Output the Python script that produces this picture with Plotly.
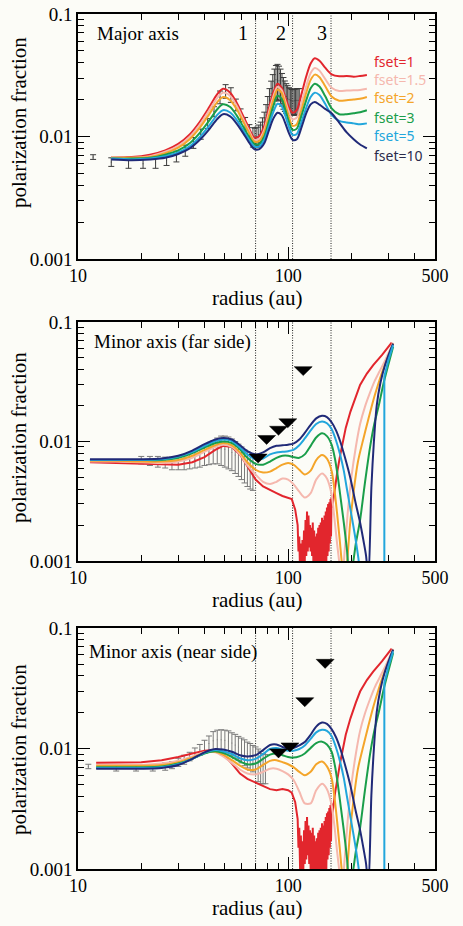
import plotly.graph_objects as go

W, H = 463, 926
SERIF = "Liberation Serif, Times New Roman, Tinos, DejaVu Serif, serif"
SANS = "Noto Sans, Open Sans, sans-serif"
COLORS = {"1": "#e2262d", "1.5": "#f5b8ae", "2": "#f4a52a", "3": "#1a9e4a", "5": "#22a6dc", "10": "#202a78"}
LABEL_COLORS = {"1": "#e2262d", "1.5": "#f5b8ae", "2": "#f4a52a", "3": "#1a9e4a", "5": "#22a6dc", "10": "#2b2b4b"}
FSETS = ["1", "1.5", "2", "3", "5", "10"]

# ---------------- Panel 1: Major axis ----------------
r_major = [14.4, 18, 22, 26, 30, 34, 38, 42, 46, 49, 53, 57, 61, 65, 69, 73, 77, 81, 85, 89, 93, 97,
           101, 105, 110, 116, 122, 128, 134, 141, 150, 161, 175, 190, 205, 220, 237]
major = {
    "1":   [0.0068, 0.0068, 0.0071, 0.0077, 0.0087, 0.0104, 0.0132, 0.0172, 0.0222, 0.0245, 0.0228, 0.0188,
            0.0148, 0.0118, 0.0098, 0.0101, 0.0122, 0.0170, 0.0228, 0.0270, 0.0252, 0.0208, 0.0172, 0.0156,
            0.0165, 0.0225, 0.0310, 0.0395, 0.0436, 0.0415, 0.0365, 0.0322, 0.0310, 0.0312, 0.0308, 0.0312, 0.0318],
    "1.5": [0.0068, 0.0067, 0.0069, 0.0075, 0.0084, 0.0099, 0.0125, 0.0162, 0.0207, 0.0228, 0.0214, 0.0177,
            0.0140, 0.0113, 0.0094, 0.0096, 0.0114, 0.0158, 0.0212, 0.0255, 0.0240, 0.0195, 0.0158, 0.0138,
            0.0143, 0.0190, 0.0258, 0.0330, 0.0362, 0.0345, 0.0295, 0.0250, 0.0235, 0.0237, 0.0238, 0.0240, 0.0245],
    "2":   [0.0067, 0.0067, 0.0068, 0.0073, 0.0081, 0.0095, 0.0118, 0.0151, 0.0191, 0.0210, 0.0198, 0.0166,
            0.0133, 0.0108, 0.0091, 0.0092, 0.0108, 0.0147, 0.0198, 0.0242, 0.0228, 0.0182, 0.0143, 0.0122,
            0.0126, 0.0168, 0.0228, 0.0290, 0.0320, 0.0305, 0.0258, 0.0212, 0.0196, 0.0198, 0.0200, 0.0203, 0.0210],
    "3":   [0.0066, 0.0066, 0.0067, 0.0071, 0.0077, 0.0088, 0.0107, 0.0134, 0.0167, 0.0183, 0.0174, 0.0148,
            0.0121, 0.0100, 0.0087, 0.0087, 0.0100, 0.0133, 0.0177, 0.0215, 0.0204, 0.0165, 0.0131, 0.0113,
            0.0116, 0.0150, 0.0198, 0.0248, 0.0270, 0.0256, 0.0214, 0.0170, 0.0152, 0.0152, 0.0155, 0.0158, 0.0164],
    "5":   [0.0066, 0.0065, 0.0066, 0.0069, 0.0074, 0.0083, 0.0099, 0.0122, 0.0150, 0.0164, 0.0157, 0.0136,
            0.0113, 0.0095, 0.0083, 0.0083, 0.0094, 0.0122, 0.0158, 0.0185, 0.0178, 0.0147, 0.0119, 0.0103,
            0.0105, 0.0133, 0.0172, 0.0210, 0.0228, 0.0218, 0.0185, 0.0150, 0.0134, 0.0130, 0.0128, 0.0126, 0.0128],
    "10":  [0.0065, 0.0064, 0.0065, 0.0067, 0.0072, 0.0080, 0.0094, 0.0114, 0.0139, 0.0152, 0.0146, 0.0127,
            0.0107, 0.0090, 0.0079, 0.0079, 0.0088, 0.0112, 0.0140, 0.0156, 0.0150, 0.0128, 0.0106, 0.0094,
            0.0095, 0.0120, 0.0155, 0.0183, 0.0191, 0.0182, 0.0168, 0.0155, 0.0130, 0.0108, 0.0095, 0.0086, 0.0080],
}
obs_major_r = [11.8, 14.4, 17.4, 20.4, 23.4, 26.4, 29.4, 32.4, 35.4, 38.4, 41.4, 44.4, 47.4, 50.4, 53.4,
               56.4, 59.4, 62.4, 65.4, 68, 69.5, 71, 72.5, 74, 75.5, 77, 78.5, 80, 81.5, 83, 84.5, 86, 87.5,
               89, 90.5, 92, 93.5, 95, 96.5, 98, 99.5, 101, 102.5, 104, 105.5, 107, 108.5, 110, 111.5, 113]
obs_major_v = [0.0068, 0.0062, 0.0060, 0.0060, 0.0061, 0.0064, 0.0069, 0.0077, 0.0089, 0.0105, 0.0128,
               0.0160, 0.0210, 0.0235, 0.0220, 0.0182, 0.0150, 0.0128, 0.0112, 0.0100, 0.0099, 0.0100,
               0.0104, 0.0110, 0.0119, 0.0132, 0.0150, 0.0172, 0.0198, 0.0225, 0.0252, 0.0275, 0.0290,
               0.0293, 0.0285, 0.0270, 0.0252, 0.0235, 0.0222, 0.0212, 0.0205, 0.0200, 0.0198, 0.0196,
               0.0195, 0.0196, 0.0197, 0.0198, 0.0198, 0.0198]
obs_major_e = [0.0003, 0.0005, 0.0005, 0.0005, 0.0006, 0.0006, 0.0007, 0.0008, 0.0009, 0.0010, 0.0012,
               0.0015, 0.0025, 0.0030, 0.0030, 0.0020, 0.0018, 0.0015, 0.0013, 0.0018, 0.0018, 0.0019,
               0.0020, 0.0021, 0.0023, 0.0026, 0.0032, 0.0040, 0.0048, 0.0058, 0.0068, 0.0080, 0.0090,
               0.0095, 0.0090, 0.0085, 0.0075, 0.0068, 0.0062, 0.0058, 0.0055, 0.0050, 0.0048, 0.0046,
               0.0046, 0.0047, 0.0047, 0.0048, 0.0048, 0.0048]

# ---------------- Outer parts shared by minor-axis panels (r > 161 au) ----------------
out_r = {
    "1":   [163, 167, 172, 177, 188, 198, 210, 220, 237, 254, 280, 311],
    "1.5": [166, 171, 176, 180, 185, 192, 200, 210, 220, 232, 245, 258, 272, 290, 316],
    "2":   [166, 171, 176, 181, 186, 191, 197, 205, 215, 228, 240, 255, 268, 280, 295, 316],
    "3":   [167, 172, 178, 184, 190, 196, 202, 210, 220, 232, 245, 257, 270, 285, 300, 316],
    "5":   [169, 177, 184, 190, 198, 205, 211, 216, 222, 230],
    "10":  [169, 177, 187, 198, 210, 220, 228, 235, 241, 249, 256, 264, 275, 289, 303, 316],
}
out_v = {
    "1":   [0.0030, 0.0042, 0.0058, 0.0077, 0.0130, 0.0178, 0.0240, 0.0297, 0.0370, 0.0435, 0.0530, 0.0673],
    "1.5": [0.0023, 0.0014, 0.0009, 0.0006, 0.0011, 0.0025, 0.0050, 0.0090, 0.0140, 0.0195, 0.0255, 0.0320,
            0.0385, 0.0480, 0.0670],
    "2":   [0.0040, 0.0025, 0.0015, 0.0009, 0.0007, 0.0010, 0.0020, 0.0038, 0.0068, 0.0105, 0.0150, 0.0225,
            0.0300, 0.0380, 0.0480, 0.0660],
    "3":   [0.0072, 0.0052, 0.0033, 0.0021, 0.0013, 0.0008, 0.0009, 0.0014, 0.0022, 0.0045, 0.0088, 0.0140,
            0.0200, 0.0310, 0.0440, 0.0620],
    "5":   [0.0102, 0.0077, 0.0057, 0.0041, 0.0027, 0.0019, 0.0014, 0.00105, 0.0007, 0.0004],
    "10":  [0.0124, 0.0100, 0.0072, 0.0049, 0.0030, 0.0021, 0.0015, 0.0011, 0.0007, 0.0041, 0.0100, 0.0200,
            0.0310, 0.0435, 0.0550, 0.0660],
}
cyan_jump_r = [287, 287, 300, 316]
cyan_jump_v = [0.0004, 0.035, 0.048, 0.064]

# ---------------- Panel 2: Minor axis (far side) ----------------
r_far = [11.4, 15, 20, 25, 30, 35, 40, 45, 49, 54, 59, 64, 70, 76, 82, 88, 94, 100, 106, 113, 120, 128,
         136, 145, 153, 161]
far = {
    "1.5": [0.0068, 0.0068, 0.0067, 0.0066, 0.0068, 0.0073, 0.0082, 0.0090, 0.0094, 0.0090, 0.0078, 0.0063,
            0.0053, 0.0046, 0.0044, 0.0046, 0.0049, 0.0048, 0.0044, 0.0038, 0.0034, 0.0037, 0.0048, 0.0054,
            0.0049, 0.0036],
    "2":   [0.0069, 0.0069, 0.0068, 0.0068, 0.0070, 0.0076, 0.0085, 0.0093, 0.0097, 0.0093, 0.0081, 0.0067,
            0.0058, 0.0055, 0.0056, 0.0060, 0.0064, 0.0066, 0.0064, 0.0058, 0.0053, 0.0057, 0.0070, 0.0077,
            0.0072, 0.0057],
    "3":   [0.0070, 0.0070, 0.0070, 0.0070, 0.0073, 0.0080, 0.0089, 0.0097, 0.0100, 0.0097, 0.0086, 0.0073,
            0.0065, 0.0064, 0.0068, 0.0073, 0.0076, 0.0076, 0.0074, 0.0073, 0.0078, 0.0092, 0.0108, 0.0117,
            0.0111, 0.0094],
    "5":   [0.0070, 0.0070, 0.0070, 0.0071, 0.0075, 0.0082, 0.0092, 0.0101, 0.0104, 0.0101, 0.0089, 0.0078,
            0.0071, 0.0072, 0.0078, 0.0081, 0.0082, 0.0083, 0.0085, 0.0093, 0.0106, 0.0124, 0.0140, 0.0147,
            0.0142, 0.0127],
    "10":  [0.0071, 0.0071, 0.0071, 0.0072, 0.0076, 0.0084, 0.0095, 0.0104, 0.0107, 0.0104, 0.0093, 0.0083,
            0.0078, 0.0081, 0.0088, 0.0092, 0.0093, 0.0094, 0.0096, 0.0104, 0.0118, 0.0138, 0.0156, 0.0164,
            0.0160, 0.0145],
}
far_red_r = [11.4, 15, 20, 25, 30, 35, 40, 45, 49, 54, 59, 64, 70, 76, 82, 88, 94, 100, 104, 108,
             111, 112, 113, 114, 115, 116, 117, 118, 119, 120, 121, 122, 123, 124, 125, 126, 127, 128, 129,
             130, 131, 132, 133, 134, 135, 136, 137, 138, 139, 140, 141, 142, 143, 144, 145, 146, 147, 148,
             149, 150, 151, 152, 153, 154, 155, 156, 157, 158, 159, 160, 161, 162]
far_red_v = [0.0067, 0.0066, 0.0065, 0.0064, 0.0064, 0.0067, 0.0074, 0.0085, 0.0092, 0.0090, 0.0078,
             0.0062, 0.0048, 0.0042, 0.0039, 0.0037, 0.0035, 0.0034, 0.0033, 0.0027,
             0.0020, 0.0012, 0.0016, 0.0008, 0.0014, 0.0007, 0.0015, 0.0009, 0.0018, 0.0010, 0.0022,
             0.0011, 0.0026, 0.0012, 0.0024, 0.0013, 0.0020, 0.0012, 0.0019, 0.0011, 0.0021, 0.0009,
             0.0018, 0.0008, 0.0016, 0.0007, 0.0017, 0.0008, 0.0019, 0.0009, 0.0020, 0.0008, 0.0021,
             0.0009, 0.0023, 0.0008, 0.0022, 0.0007, 0.0024, 0.0009, 0.0026, 0.0010, 0.0028, 0.0011,
             0.0030, 0.0012, 0.0031, 0.0014, 0.0033, 0.0016, 0.0034, 0.0028]
obs_far_r = [20, 22, 24, 26, 28, 30, 32, 34, 36, 38, 40, 42, 44, 46, 48, 50, 52, 54, 56, 58, 60, 62, 64, 66, 68]
obs_far_v = [0.0070, 0.0069, 0.0068, 0.0067, 0.0066, 0.0066, 0.0067, 0.0069, 0.0071, 0.0074, 0.0077, 0.0080,
             0.0083, 0.0086, 0.0087, 0.0086, 0.0084, 0.0081, 0.0077, 0.0073, 0.0069, 0.0065, 0.0062, 0.0059, 0.0057]
obs_far_e = [0.0005, 0.0006, 0.0007, 0.0007, 0.0008, 0.0008, 0.0009, 0.0010, 0.0011, 0.0013, 0.0014, 0.0016,
             0.0018, 0.0021, 0.0024, 0.0025, 0.0025, 0.0024, 0.0023, 0.0022, 0.0021, 0.0020, 0.0020, 0.0019, 0.0018]
lim_far_r = [72, 79, 90, 99.6, 118]
lim_far_v = [0.0072, 0.0103, 0.0123, 0.0142, 0.0388]

# ---------------- Panel 3: Minor axis (near side) ----------------
r_near = [12.2, 16, 20, 25, 30, 35, 40, 45, 49, 54, 59, 64, 70, 76, 82, 88, 94, 100, 106, 113, 120, 128,
          136, 145, 153, 161]
near = {
    "1.5": [0.0073, 0.0073, 0.0073, 0.0075, 0.0079, 0.0086, 0.0093, 0.0093, 0.0086, 0.0076, 0.0067, 0.0062,
            0.0061, 0.0064, 0.0068, 0.0068, 0.0065, 0.0061, 0.0055, 0.0044, 0.0035, 0.0035, 0.0045, 0.0051,
            0.0046, 0.0034],
    "2":   [0.0072, 0.0072, 0.0072, 0.0073, 0.0077, 0.0084, 0.0092, 0.0094, 0.0089, 0.0080, 0.0072, 0.0067,
            0.0067, 0.0073, 0.0079, 0.0080, 0.0077, 0.0074, 0.0070, 0.0064, 0.0060, 0.0064, 0.0074, 0.0078,
            0.0071, 0.0057],
    "3":   [0.0070, 0.0070, 0.0070, 0.0071, 0.0075, 0.0082, 0.0091, 0.0095, 0.0092, 0.0085, 0.0078, 0.0074,
            0.0075, 0.0082, 0.0089, 0.0091, 0.0088, 0.0085, 0.0084, 0.0086, 0.0091, 0.0101, 0.0111, 0.0114,
            0.0108, 0.0094],
    "5":   [0.0069, 0.0069, 0.0069, 0.0070, 0.0074, 0.0082, 0.0092, 0.0097, 0.0095, 0.0090, 0.0083, 0.0080,
            0.0082, 0.0090, 0.0099, 0.0101, 0.0098, 0.0096, 0.0096, 0.0099, 0.0106, 0.0120, 0.0136, 0.0143,
            0.0140, 0.0127],
    "10":  [0.0068, 0.0068, 0.0068, 0.0069, 0.0073, 0.0082, 0.0093, 0.0099, 0.0098, 0.0094, 0.0088, 0.0086,
            0.0088, 0.0097, 0.0107, 0.0108, 0.0103, 0.0100, 0.0101, 0.0106, 0.0113, 0.0130, 0.0152, 0.0164,
            0.0160, 0.0145],
}
near_red_r = [12.2, 16, 20, 25, 30, 35, 40, 44, 49, 54, 59, 64, 70, 76, 82, 88, 94, 100, 104, 108,
              111, 112, 113, 114, 115, 116, 117, 118, 119, 120, 121, 122, 123, 124, 125, 126, 127, 128, 129,
              130, 131, 132, 133, 134, 135, 136, 137, 138, 139, 140, 141, 142, 143, 144, 145, 146, 147, 148,
              149, 150, 151, 152, 153, 154, 155, 156, 157, 158, 159, 160, 161, 162]
near_red_v = [0.0076, 0.0076, 0.0077, 0.0080, 0.0085, 0.0091, 0.0096, 0.0097, 0.0090, 0.0075, 0.0062,
              0.0056, 0.0052, 0.0049, 0.0046, 0.0045, 0.0046, 0.0045, 0.0043, 0.0036,
              0.0026, 0.0015, 0.0022, 0.0010, 0.0019, 0.0008, 0.0017, 0.0009, 0.0021, 0.0011, 0.0025,
              0.0012, 0.0027, 0.0013, 0.0023, 0.0011, 0.0021, 0.0010, 0.0020, 0.0009, 0.0022, 0.0008,
              0.0019, 0.0007, 0.0017, 0.0008, 0.0018, 0.0009, 0.0020, 0.0010, 0.0021, 0.0008, 0.0022,
              0.0009, 0.0024, 0.0008, 0.0023, 0.0007, 0.0025, 0.0009, 0.0027, 0.0010, 0.0029, 0.0012,
              0.0030, 0.0013, 0.0032, 0.0015, 0.0034, 0.0017, 0.0035, 0.0029]
obs_near_r = [11.2, 15.2, 18.9, 22.7, 26, 28, 30, 32, 34, 36, 38, 40, 42, 44, 46, 48, 50, 52, 54, 56, 58,
              60, 62, 64, 66, 68, 70, 72, 74, 76, 78]
obs_near_v = [0.0071, 0.0069, 0.0069, 0.0069, 0.0071, 0.0073, 0.0077, 0.0081, 0.0086, 0.0093, 0.0098,
              0.0104, 0.0110, 0.0116, 0.0118, 0.0118, 0.0117, 0.0115, 0.0111, 0.0107, 0.0103, 0.0099,
              0.0095, 0.0091, 0.0088, 0.0085, 0.0082, 0.0076, 0.0073, 0.0071, 0.0070]
obs_near_e = [0.0003, 0.0004, 0.0004, 0.0004, 0.0005, 0.0005, 0.0006, 0.0007, 0.0007, 0.0008, 0.0010,
              0.0013, 0.0017, 0.0022, 0.0024, 0.0025, 0.0025, 0.0025, 0.0024, 0.0024, 0.0023, 0.0023,
              0.0023, 0.0022, 0.0022, 0.0021, 0.0021, 0.0023, 0.0022, 0.0020, 0.0019]
lim_near_r = [90, 102, 120, 150]
lim_near_v = [0.0091, 0.0102, 0.0242, 0.0504]

gap_radii = [70, 105, 160]
gap_labels = ["1", "2", "3"]
x_ticks = [10, 100, 500]
y_ticks = [0.001, 0.01, 0.1]
y_tick_text = ["0.001", "0.01", "0.1"]
panel_titles = ["Major axis", "Minor axis (far side)", "Minor axis (near side)"]

# ---------------- Figure ----------------
fig = go.Figure()

px_x0, px_x1 = 78, 435
panels = [(14, 259), (322, 561), (628, 869)]
DEC_X = (px_x1 - px_x0) / 1.69897  # pixels per decade in x


def fx(px):
    return px / W


def fy(py):
    return 1 - py / H


def add_obs(n, r, v, e, color):
    fig.add_trace(go.Scatter(
        x=r, y=v, mode="markers", xaxis=f"x{n}", yaxis=f"y{n}",
        marker=dict(size=1, color=color),
        error_y=dict(type="data", array=e, visible=True, color=color, thickness=1, width=3),
        showlegend=False, hoverinfo="skip"))


def add_line(n, r, v, color, shape="spline"):
    fig.add_trace(go.Scatter(
        x=r, y=v, mode="lines", xaxis=f"x{n}", yaxis=f"y{n}",
        line=dict(color=color, width=2, shape=shape, smoothing=0.8),
        showlegend=False, hoverinfo="skip"))


def add_gaps(n):
    for g in gap_radii:
        fig.add_trace(go.Scatter(
            x=[g, g], y=[0.001, 0.1], mode="lines", xaxis=f"x{n}", yaxis=f"y{n}",
            line=dict(color="#222222", width=1, dash="1px,1.5px"), showlegend=False, hoverinfo="skip"))


def add_limits(n, r, v, dec_y):
    # flat downward triangles (upper limits): 18 px wide, 9 px tall, centred on each value
    hx = 10 ** (9 / DEC_X)
    hy = 10 ** (4.5 / dec_y)
    xs, ys = [], []
    for ri, vi in zip(r, v):
        xs += [ri / hx, ri * hx, ri, ri / hx, None]
        ys += [vi * hy, vi * hy, vi / hy, vi * hy, None]
    fig.add_trace(go.Scatter(
        x=xs, y=ys, mode="lines", fill="toself", fillcolor="black", xaxis=f"x{n}", yaxis=f"y{n}",
        line=dict(color="black", width=0.5), showlegend=False, hoverinfo="skip"))


# panel 1
add_gaps("")
add_obs("", obs_major_r, obs_major_v, obs_major_e, "#3c3c3c")
for k in FSETS:
    add_line("", r_major, major[k], COLORS[k])

# panels 2, 3
for n, inner_r, inner, red_r, red_v, obs_r, obs_v, obs_e, lim_r, lim_v in [
        ("2", r_far, far, far_red_r, far_red_v, obs_far_r, obs_far_v, obs_far_e, lim_far_r, lim_far_v),
        ("3", r_near, near, near_red_r, near_red_v, obs_near_r, obs_near_v, obs_near_e, lim_near_r, lim_near_v)]:
    add_gaps(n)
    add_obs(n, obs_r, obs_v, obs_e, "#7a7a7a")
    add_line(n, red_r + out_r["1"], red_v + out_v["1"], COLORS["1"], shape="linear")
    for k in ["1.5", "2", "3", "5", "10"]:
        add_line(n, inner_r + out_r[k], inner[k] + out_v[k], COLORS[k])
    add_line(n, cyan_jump_r, cyan_jump_v, COLORS["5"], shape="linear")
    add_limits(n, lim_r, lim_v, 120)

x_minor = [20, 30, 40, 50, 60, 70, 80, 90, 200, 300, 400]
y_minor = [0.002, 0.003, 0.004, 0.005, 0.006, 0.007, 0.008, 0.009,
           0.02, 0.03, 0.04, 0.05, 0.06, 0.07, 0.08, 0.09]

layout = dict(
    width=W, height=H, margin=dict(l=0, r=0, t=0, b=0, pad=0, autoexpand=False),
    paper_bgcolor="#fcfcf7", plot_bgcolor="#fcfcf7",
    font=dict(family=SERIF, size=19, color="black"),
)
annotations = []
for i, (top, bot) in enumerate(panels):
    sfx = "" if i == 0 else str(i + 1)
    layout[f"xaxis{sfx}"] = dict(
        type="log", range=[1, 2.69897], domain=[fx(px_x0), fx(px_x1)], anchor=f"y{sfx}",
        tickmode="array", tickvals=x_ticks, ticktext=[str(t) for t in x_ticks],
        ticks="inside", ticklen=12, tickwidth=1, tickcolor="black",
        showline=True, linecolor="black", linewidth=1.5, mirror="allticks",
        showgrid=False, zeroline=False, automargin=False,
        minor=dict(tickmode="array", tickvals=x_minor, ticks="inside", ticklen=6, tickcolor="black", showgrid=False),
        tickfont=dict(family=SERIF, size=18, color="black"),
    )
    layout[f"yaxis{sfx}"] = dict(
        type="log", range=[-3, -1], domain=[fy(bot), fy(top)], anchor=f"x{sfx}",
        tickmode="array", tickvals=y_ticks, ticktext=y_tick_text,
        ticks="inside", ticklen=12, tickwidth=1, tickcolor="black",
        showline=True, linecolor="black", linewidth=1.5, mirror="allticks",
        showgrid=False, zeroline=False, automargin=False,
        minor=dict(tickmode="array", tickvals=y_minor, ticks="inside", ticklen=6, tickcolor="black", showgrid=False),
        tickfont=dict(family=SERIF, size=19, color="black"),
    )
    annotations.append(dict(text="radius (au)", x=fx((px_x0 + px_x1) / 2), y=fy(bot + 39),
                            xref="paper", yref="paper", showarrow=False, xanchor="center", yanchor="middle",
                            font=dict(family=SERIF, size=21, color="black")))
    ycen = [123, 438, 750][i]
    annotations.append(dict(text="polarization fraction", x=fx(19), y=fy(ycen), textangle=-90,
                            xref="paper", yref="paper", showarrow=False, xanchor="center", yanchor="middle",
                            font=dict(family=SERIF, size=21, color="black")))
    tx = [95, 92, 87][i]
    ty = [33, 342, 652][i]
    annotations.append(dict(text=panel_titles[i], x=fx(tx), y=fy(ty), xref="paper", yref="paper",
                            showarrow=False, xanchor="left", yanchor="middle",
                            font=dict(family=SERIF, size=19, color="black")))

for lab, px in zip(gap_labels, [243, 281, 322]):
    annotations.append(dict(text=lab, x=fx(px), y=fy(33), xref="paper", yref="paper", showarrow=False,
                            xanchor="center", yanchor="middle", font=dict(family=SERIF, size=20, color="black")))

for k, py in zip(FSETS, [61, 79, 98, 117, 136, 155]):
    annotations.append(dict(text=f"fset={k}", x=fx(372), y=fy(py), xref="paper", yref="paper",
                            showarrow=False, xanchor="left", yanchor="middle",
                            font=dict(family=SANS, size=14, color=LABEL_COLORS[k])))

layout["annotations"] = annotations
fig.update_layout(**layout)
fig.write_html("out.html", config={"displayModeBar": False},
               post_script="document.body.style.margin='0';document.body.style.overflow='hidden';")
